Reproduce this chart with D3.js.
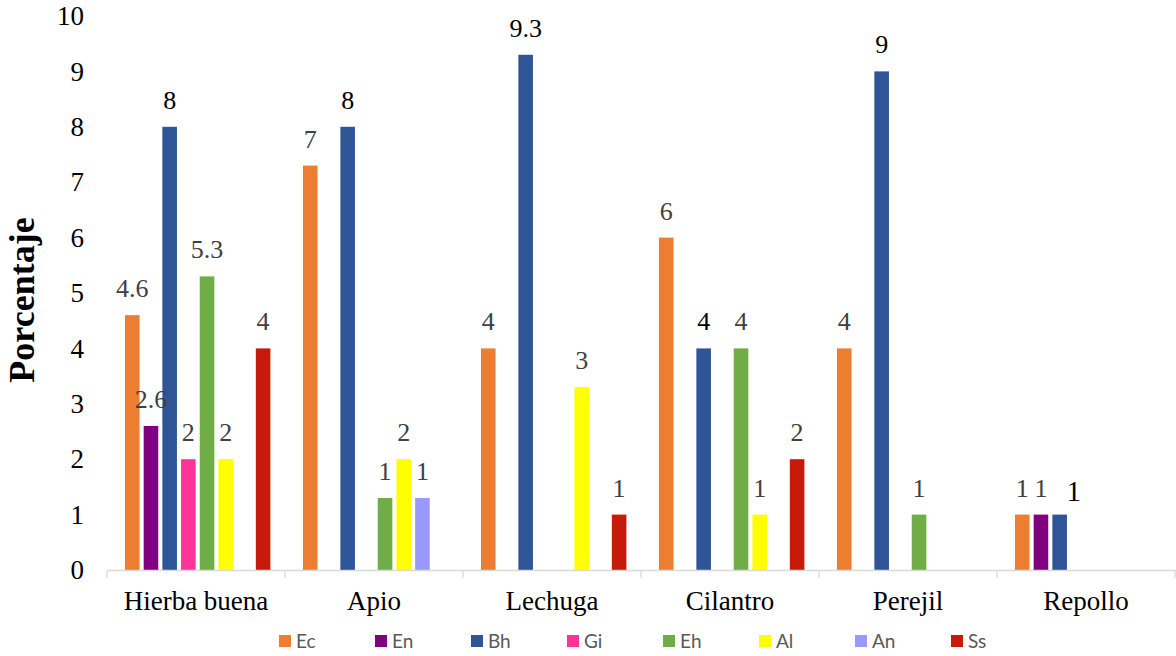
<!DOCTYPE html>
<html>
<head>
<meta charset="utf-8">
<script src="https://cdn.jsdelivr.net/npm/d3@7"></script>
<style>
  html, body { margin: 0; padding: 0; background: #fff; }
  svg { display: block; }
</style>
</head>
<body>
<svg id="chart" width="1176" height="656"></svg>
<script>
// Crops (categories) and pest groups (series)
const categories = ["Hierba buena", "Apio", "Lechuga", "Cilantro", "Perejil", "Repollo"];
const seriesNames = ["Ec", "En", "Bh", "Gi", "Eh", "Al", "An", "Ss"];
const seriesColors = ["#ED7D31", "#800080", "#2F5597", "#FF3399", "#70AD47", "#FFFF00", "#9999FF", "#C81A0A"];

// Percentages per series, one value per crop (null = not present)
const ecValues = [4.6, 7.3, 4, 6, 4, 1];
const enValues = [2.6, null, null, null, null, 1];
const bhValues = [8, 8, 9.3, 4, 9, 1];
const giValues = [2, null, null, null, null, null];
const ehValues = [5.3, 1.3, null, 4, 1, null];
const alValues = [2, 2, 3.3, 1, null, null];
const anValues = [null, 1.3, null, null, null, null];
const ssValues = [4, null, 1, 2, null, null];

// Data-label texts as printed above each bar
const ecLabels = ["4.6", "7", "4", "6", "4", "1"];
const enLabels = ["2.6", "", "", "", "", "1"];
const bhLabels = ["8", "8", "9.3", "4", "9", "1"];
const giLabels = ["2", "", "", "", "", ""];
const ehLabels = ["5.3", "1", "", "4", "1", ""];
const alLabels = ["2", "2", "3", "1", "", ""];
const anLabels = ["", "1", "", "", "", ""];
const ssLabels = ["4", "", "1", "2", "", ""];

const yTicks = [0, 1, 2, 3, 4, 5, 6, 7, 8, 9, 10];

const seriesValues = [ecValues, enValues, bhValues, giValues, ehValues, alValues, anValues, ssValues];
const seriesLabels = [ecLabels, enLabels, bhLabels, giLabels, ehLabels, alLabels, anLabels, ssLabels];

const svg = d3.select("#chart");
const serif = "'Liberation Serif', 'Times New Roman', serif";

const plot = { left: 107, right: 1175, top: 16, bottom: 570 };

const x0 = d3.scaleBand().domain(categories).range([plot.left, plot.right]).padding(0);
const cw = x0.bandwidth();
const x1 = d3.scaleBand().domain(seriesNames)
  .range([cw * 0.101, cw * 0.918]).paddingInner(0.22).paddingOuter(0);
const y = d3.scaleLinear().domain([0, 10]).range([plot.bottom, plot.top]);
const color = d3.scaleOrdinal().domain(seriesNames).range(seriesColors);

// Flatten into one record per bar
const bars = [];
seriesNames.forEach((s, si) => {
  categories.forEach((c, ci) => {
    const v = seriesValues[si][ci];
    if (v !== null) bars.push({ series: s, cat: c, value: v, label: seriesLabels[si][ci] });
  });
});

// Bars
svg.append("g").selectAll("rect").data(bars).join("rect")
  .attr("x", d => x0(d.cat) + x1(d.series))
  .attr("y", d => y(d.value))
  .attr("width", x1.bandwidth())
  .attr("height", d => y(0) - y(d.value))
  .attr("fill", d => color(d.series));

// Data labels (the Bh series is printed in black, others dark grey)
const big = d => d.series === "Bh" && d.cat === "Repollo";
svg.append("g").selectAll("text").data(bars.filter(d => d.label !== "")).join("text")
  .attr("x", d => x0(d.cat) + x1(d.series) + x1.bandwidth() / 2 + (big(d) ? 14 : 0))
  .attr("y", d => y(d.value) - 18 + (big(d) ? 4 : 0))
  .attr("text-anchor", "middle")
  .style("font-family", serif)
  .style("font-size", d => (big(d) ? 29 : 26) + "px")
  .attr("fill", d => d.series === "Bh" ? "#000000" : "#404040")
  .text(d => d.label);

// X axis: baseline with tick marks between categories
const xAxis = d3.axisBottom(x0).tickSize(0).tickPadding(21);
const gx = svg.append("g").attr("transform", `translate(0,${plot.bottom})`).call(xAxis);
gx.select(".domain").attr("stroke", "#D9D9D9").attr("stroke-width", 1.3);
gx.selectAll(".tick text")
  .style("font-family", serif).style("font-size", "27px").attr("fill", "#000").attr("dy", "0.71em");
const boundaries = categories.map(c => x0(c)).concat([plot.right]);
gx.selectAll("line.sep").data(boundaries).join("line")
  .attr("class", "sep")
  .attr("x1", d => d).attr("x2", d => d)
  .attr("y1", 0).attr("y2", 8)
  .attr("stroke", "#D9D9D9").attr("stroke-width", 1.3);

// Y axis: labels only
const yAxis = d3.axisLeft(y).tickValues(yTicks).tickSize(0).tickPadding(0);
const gy = svg.append("g").attr("transform", `translate(84,0)`).call(yAxis);
gy.select(".domain").remove();
gy.selectAll(".tick text")
  .style("font-family", serif).style("font-size", "27px").attr("fill", "#000");

// Y axis title
svg.append("text")
  .attr("transform", "translate(34,300) rotate(-90)")
  .attr("text-anchor", "middle")
  .style("font-family", serif).style("font-weight", "bold").style("font-size", "36px")
  .attr("fill", "#000")
  .text("Porcentaje");

// Legend
const legend = svg.append("g").attr("transform", "translate(0,641)");
const lx = d3.scalePoint().domain(seriesNames).range([279, 951]);
const item = legend.selectAll("g").data(seriesNames).join("g")
  .attr("transform", d => `translate(${lx(d)},0)`);
item.append("rect").attr("x", 0).attr("y", -6).attr("width", 12).attr("height", 12)
  .attr("fill", d => color(d));
item.append("text").attr("x", 17).attr("y", 0).attr("dy", "0.36em")
  .style("font-family", "Lato, 'Open Sans', sans-serif").style("font-size", "19px")
  .attr("fill", "#595959")
  .text(d => d);
</script>
</body>
</html>
